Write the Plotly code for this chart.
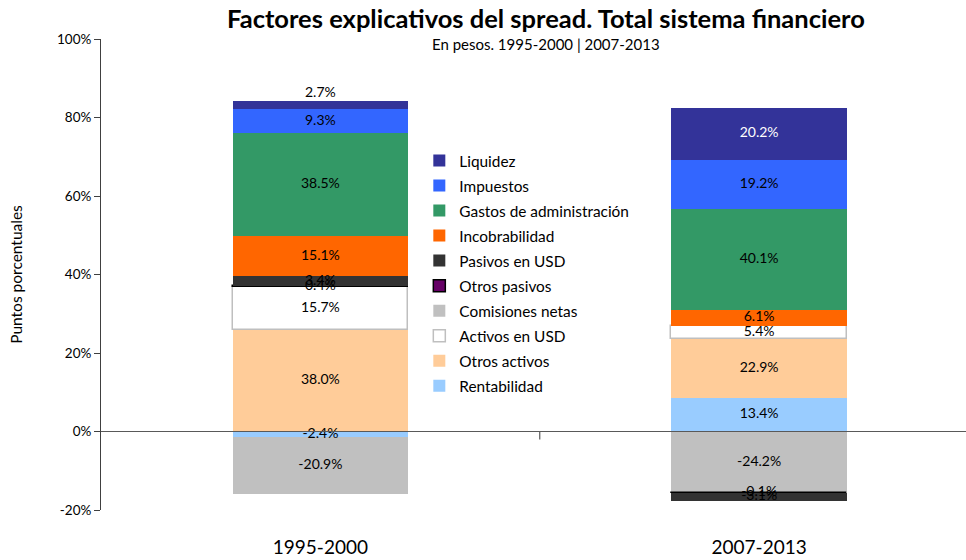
import plotly.graph_objects as go

# ---------------- data ----------------
categories = ["1995-2000", "2007-2013"]

# series in stacking order (bottom -> top); heights in axis units, labels = share of spread (%)
series_names = [
    "Rentabilidad", "Otros activos", "Activos en USD", "Comisiones netas",
    "Otros pasivos", "Pasivos en USD", "Incobrabilidad",
    "Gastos de administración", "Impuestos", "Liquidez",
]
rentabilidad = [-1.4, 8.6]
otros_activos = [25.9, 14.9]
activos_usd = [10.8, 3.4]
comisiones = [-14.4, -15.6]
otros_pasivos = [0.3, -0.07]
pasivos_usd = [2.5, -2.0]
incobrabilidad = [10.2, 4.1]
gastos = [26.3, 25.7]
impuestos = [6.2, 12.5]
liquidez = [2.1, 13.2]

share_rentabilidad = [-2.4, 13.4]
share_otros_activos = [38.0, 22.9]
share_activos_usd = [15.7, 5.4]
share_comisiones = [-20.9, -24.2]
share_otros_pasivos = [0.4, -0.1]
share_pasivos_usd = [3.4, -3.1]
share_incobrabilidad = [15.1, 6.1]
share_gastos = [38.5, 40.1]
share_impuestos = [9.3, 19.2]
share_liquidez = [2.7, 20.2]

y_ticks = [-20, 0, 20, 40, 60, 80, 100]

heights = [rentabilidad, otros_activos, activos_usd, comisiones, otros_pasivos,
           pasivos_usd, incobrabilidad, gastos, impuestos, liquidez]
shares = [share_rentabilidad, share_otros_activos, share_activos_usd, share_comisiones,
          share_otros_pasivos, share_pasivos_usd, share_incobrabilidad, share_gastos,
          share_impuestos, share_liquidez]

# ---------------- styles ----------------
colors = ["#99CCFF", "#FFCC99", "#FFFFFF", "#C0C0C0", "#660066",
          "#333333", "#FF6600", "#339966", "#3366FF", "#333399"]
line_colors = [None, None, "#BFBFBF", None, "#000000", None, None, None, None, None]
line_widths = [0, 0, 1.5, 0, 1.5, 0, 0, 0, 0, 0]
FONT = "Lato, Carlito, Calibri, sans-serif"

fig = go.Figure()
xpos = [0, 1]
n = len(series_names)
for i, name in enumerate(series_names):
    fig.add_trace(go.Bar(
        x=xpos, y=heights[i], name=name,
        width=0.4,
        marker=dict(color=colors[i],
                    line=dict(color=line_colors[i] or colors[i], width=line_widths[i])),
        legendgroup=name,
        legendrank=100 + (n - i),
        hoverinfo="name+y",
    ))

# labels drawn on top of all bars, at segment centres computed from the stacking
lab_x, lab_y, lab_t, lab_pos, lab_col = [], [], [], [], []
for j in range(len(categories)):
    pos_base, neg_base = 0.0, 0.0
    for i, name in enumerate(series_names):
        v = heights[i][j]
        if v >= 0:
            y0 = pos_base
            pos_base += v
        else:
            y0 = neg_base
            neg_base += v
        mid = y0 + v / 2
        label_pos = "middle center"
        col = "black"
        if name == "Liquidez":
            if j == 0:
                mid = y0 + v
                label_pos = "top center"
            else:
                col = "white"
        lab_x.append(xpos[j])
        lab_y.append(mid)
        lab_t.append(f"{shares[i][j]:.1f}%")
        lab_pos.append(label_pos)
        lab_col.append(col)

fig.add_trace(go.Scatter(
    x=lab_x, y=lab_y, text=lab_t, mode="text",
    textposition=lab_pos,
    textfont=dict(family=FONT, size=14, color=lab_col),
    showlegend=False, hoverinfo="skip", cliponaxis=False,
))

fig.update_layout(
    width=966, height=560,
    barmode="relative",
    bargap=0,
    plot_bgcolor="white", paper_bgcolor="white",
    margin=dict(l=101, r=0, t=39, b=50, autoexpand=False),
    font=dict(family=FONT, size=13, color="black"),
    showlegend=True,
    legend=dict(
        x=0.368, y=0.777, xanchor="left", yanchor="top",
        traceorder="grouped", tracegroupgap=2,
        font=dict(family=FONT, size=15.4, color="black"),
        bgcolor="rgba(0,0,0,0)", itemwidth=30,
    ),
    xaxis=dict(
        range=[-0.5, 1.4715],
        tickvals=xpos, ticktext=categories,
        tickfont=dict(family=FONT, size=19, color="black"),
        showline=False, showgrid=False, zeroline=False, ticks="",
        ticklabelstandoff=24, automargin=False,
    ),
    yaxis=dict(
        range=[-20, 100],
        tickvals=y_ticks,
        ticktext=[f"{v}%" for v in y_ticks],
        tickfont=dict(family=FONT, size=13.5, color="black"),
        ticks="outside", ticklen=6, tickcolor="#404040",
        showline=True, linecolor="#404040", linewidth=1,
        showgrid=False, zeroline=False, automargin=False,
        title=dict(text="Puntos porcentuales", font=dict(family=FONT, size=15.5, color="black"),
                   standoff=30),
    ),
    annotations=[
        dict(text="<b>Factores explicativos del spread. Total sistema financiero</b>",
             xref="paper", yref="paper", x=0.5145, y=1.0446,
             xanchor="center", yanchor="middle", showarrow=False,
             font=dict(family=FONT, size=25.5, color="black")),
        dict(text="En pesos. 1995-2000 | 2007-2013",
             xref="paper", yref="paper", x=0.5145, y=0.989,
             xanchor="center", yanchor="middle", showarrow=False,
             font=dict(family=FONT, size=15, color="black")),
    ],
    shapes=[
        dict(type="line", xref="paper", yref="y", x0=0, x1=1, y0=0, y1=0,
             line=dict(color="#595959", width=1.2), layer="above"),
        dict(type="line", xref="x", yref="y", ysizemode="pixel", yanchor=0,
             x0=0.5, x1=0.5, y0=0, y1=-8,
             line=dict(color="#595959", width=1.2), layer="above"),
    ],
)

fig.write_html("out.html", config={"displayModeBar": False},
               post_script="document.body.style.margin='0';")
